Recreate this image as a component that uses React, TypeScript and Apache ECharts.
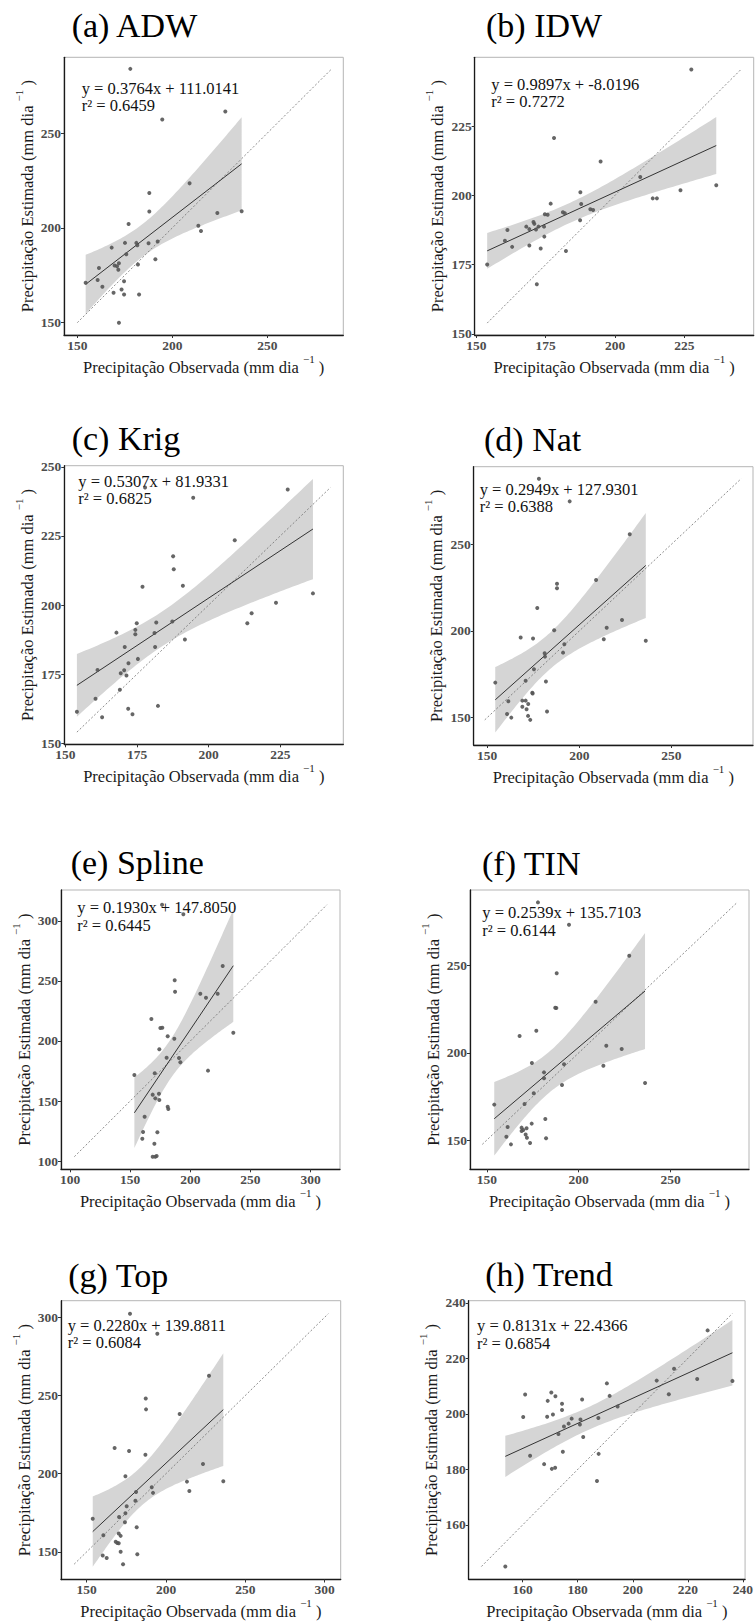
import React, { useEffect, useRef } from "react";
import * as echarts from "echarts";

const FONT = "Liberation Serif, Times New Roman, serif";

// ---------------- data ----------------
const panelTitles = ["(a) ADW", "(b) IDW", "(c) Krig", "(d) Nat", "(e) Spline", "(f) TIN", "(g) Top", "(h) Trend"];

const equationLabels = [
  "y = 0.3764x + 111.0141",
  "y = 0.9897x + -8.0196",
  "y = 0.5307x + 81.9331",
  "y = 0.2949x + 127.9301",
  "y = 0.1930x + 147.8050",
  "y = 0.2539x + 135.7103",
  "y = 0.2280x + 139.8811",
  "y = 0.8131x + 22.4366",
];
const r2Labels = ["r² = 0.6459", "r² = 0.7272", "r² = 0.6825", "r² = 0.6388", "r² = 0.6445", "r² = 0.6144", "r² = 0.6084", "r² = 0.6854"];

const adwPoints = [
  [177.9, 283.9], [227.9, 261.4], [194.7, 257.2], [209.1, 223.5], [187.9, 218.4], [187.9, 208.6], [223.7, 207.9],
  [236.5, 208.8], [177.0, 202.1], [213.7, 201.1], [215.1, 198.4], [168.1, 189.6], [175.1, 192.1], [181.1, 192.1],
  [181.6, 190.9], [187.5, 191.9], [192.3, 192.8], [175.8, 186.1], [191.1, 183.5], [161.4, 178.9], [169.6, 180.2],
  [170.9, 179.8], [171.9, 181.4], [171.6, 177.9], [181.9, 180.7], [154.4, 171.1], [160.7, 172.5], [163.2, 168.9],
  [174.6, 171.9], [173.3, 167.5], [169.1, 165.8], [174.6, 164.9], [182.5, 164.9], [171.9, 150.0],
];
const idwPoints = [
  [227.5, 245.4], [178.0, 220.7], [194.8, 212.2], [209.1, 206.6], [187.5, 201.1], [236.5, 203.6], [223.6, 201.8],
  [213.6, 198.9], [215.1, 198.9], [176.8, 197.0], [187.8, 196.9], [191.1, 195.0], [192.1, 194.7], [174.7, 193.2],
  [175.7, 193.0], [181.2, 193.9], [181.9, 193.5], [187.4, 191.0], [161.2, 187.5], [170.6, 190.4], [170.9, 189.7],
  [168.0, 188.7], [169.1, 187.8], [171.5, 187.7], [172.4, 188.7], [174.4, 188.7], [174.5, 185.1], [160.3, 183.6],
  [162.9, 181.4], [169.1, 181.9], [173.2, 180.8], [182.3, 179.9], [153.9, 175.0], [171.8, 167.9],
];
const krigPoints = [
  [227.6, 241.8], [177.8, 242.5], [194.6, 238.8], [209.1, 223.4], [187.6, 217.6], [187.8, 212.9], [191.0, 207.0],
  [176.9, 206.6], [236.4, 204.2], [223.5, 200.8], [215.0, 197.0], [213.5, 193.4], [174.9, 193.4], [181.7, 193.7],
  [187.3, 194.0], [167.8, 190.0], [174.4, 191.0], [174.4, 189.4], [181.1, 189.9], [191.7, 187.5], [170.7, 184.8],
  [181.3, 184.8], [175.3, 180.5], [172.0, 178.9], [161.2, 176.5], [170.5, 176.4], [169.3, 175.3], [171.3, 174.5],
  [169.0, 169.3], [160.5, 166.1], [171.9, 162.5], [182.3, 163.5], [173.4, 160.5], [162.8, 159.4], [154.0, 161.4],
];
const natPoints = [
  [178.1, 287.9], [194.8, 274.8], [227.4, 255.8], [209.1, 229.4], [187.9, 227.3], [187.9, 224.6], [177.2, 213.3],
  [186.4, 200.4], [168.2, 196.2], [174.9, 195.6], [214.9, 201.9], [223.2, 206.3], [213.3, 195.2], [236.1, 194.4],
  [191.9, 192.3], [191.2, 187.5], [181.2, 187.1], [181.4, 185.2], [175.4, 177.9], [170.9, 171.3], [181.9, 170.8],
  [154.4, 170.2], [174.5, 164.4], [174.7, 163.9], [169.1, 159.8], [170.9, 159.8], [161.5, 159.4], [172.3, 157.9],
  [169.1, 156.3], [171.4, 154.8], [182.5, 153.5], [160.8, 152.1], [172.2, 151.0], [163.1, 150.0], [173.4, 148.7],
];
const splinePoints = [
  [176.5, 313.5], [194.2, 305.6], [226.9, 262.5], [187.0, 250.6], [187.3, 241.1], [208.3, 239.4], [213.0, 236.1],
  [222.7, 239.4], [167.6, 218.3], [175.1, 210.8], [176.7, 211.1], [181.2, 203.9], [186.7, 201.9], [235.7, 206.9],
  [174.2, 193.1], [180.3, 186.1], [190.6, 185.8], [191.7, 182.2], [214.7, 175.3], [153.5, 171.7], [170.4, 173.1],
  [168.7, 155.3], [173.9, 156.1], [170.9, 152.2], [174.2, 150.8], [181.2, 145.3], [181.7, 143.3], [162.0, 136.9],
  [160.7, 124.2], [172.6, 123.9], [160.1, 118.6], [170.1, 114.4], [168.7, 103.6], [170.9, 103.6], [172.0, 104.2],
];
const tinPoints = [
  [177.8, 286.3], [194.7, 273.5], [227.5, 255.7], [188.0, 245.6], [209.2, 229.3], [187.2, 225.9], [187.8, 225.7],
  [176.9, 212.7], [167.8, 209.7], [215.0, 204.1], [223.4, 202.2], [213.4, 192.6], [174.5, 194.2], [192.0, 193.4],
  [181.1, 188.8], [181.1, 185.4], [190.9, 181.5], [236.1, 182.7], [175.5, 176.8], [170.5, 170.6], [154.0, 170.3],
  [181.8, 162.0], [174.4, 159.4], [161.3, 157.5], [168.9, 157.1], [169.8, 155.7], [171.6, 156.7], [168.9, 155.2],
  [171.1, 153.1], [171.8, 151.3], [160.6, 151.9], [182.2, 151.0], [173.5, 148.3], [163.1, 147.5],
];
const topPoints = [
  [177.3, 302.3], [194.5, 289.4], [227.1, 262.6], [187.2, 248.1], [187.4, 241.1], [208.6, 238.1], [167.6, 216.4],
  [176.7, 214.5], [187.0, 212.1], [223.3, 206.2], [174.4, 198.3], [213.2, 194.9], [236.1, 195.1], [191.0, 191.3],
  [191.8, 187.7], [214.7, 188.9], [181.1, 188.3], [180.7, 182.6], [175.2, 179.1], [170.4, 172.3], [174.4, 174.7],
  [174.1, 168.9], [153.8, 171.1], [181.5, 165.7], [170.2, 161.7], [171.4, 160.2], [160.5, 160.6], [168.3, 156.4],
  [169.3, 155.7], [170.2, 155.5], [171.4, 150.0], [181.9, 148.5], [160.1, 147.7], [162.6, 146.0], [172.9, 142.1],
];
const trendPoints = [
  [227.2, 230.1], [215.0, 216.3], [208.7, 212.0], [223.4, 212.6], [236.2, 211.9], [213.1, 207.1], [190.6, 211.0],
  [191.6, 206.5], [194.5, 202.7], [160.9, 207.0], [170.4, 207.7], [171.9, 206.4], [169.1, 204.7], [181.6, 205.2],
  [174.3, 203.7], [174.3, 201.4], [171.0, 199.8], [168.9, 199.0], [160.2, 198.9], [177.8, 198.3], [181.0, 198.0],
  [187.5, 198.5], [176.7, 196.5], [175.0, 195.5], [180.8, 196.2], [173.0, 192.8], [182.0, 191.7], [174.6, 186.4],
  [187.6, 185.6], [162.7, 184.9], [167.8, 181.9], [170.6, 180.2], [171.8, 180.6], [187.0, 175.8], [153.7, 145.0],
];
const panelPoints = [adwPoints, idwPoints, krigPoints, natPoints, splinePoints, tinPoints, topPoints, trendPoints];

// axis ranges and tick labels
const xLimits = [[143, 290], [149.4, 250], [149.6, 247], [142.7, 294.3], [92.5, 324.4], [140.8, 292.7], [133.8, 310.1], [140.4, 240.8]];
const yLimits = [[143.5, 290], [149.6, 249.8], [149.6, 250.4], [134.2, 294.8], [93.1, 325.8], [133.2, 293.4], [132.3, 310.6], [140.4, 240.8]];
const xTickValues = [
  [150, 200, 250], [150, 175, 200, 225], [150, 175, 200, 225], [150, 200, 250],
  [100, 150, 200, 250, 300], [150, 200, 250], [150, 200, 250, 300], [160, 180, 200, 220, 240],
];
const yTickValues = [
  [150, 200, 250], [150, 175, 200, 225], [150, 175, 200, 225, 250], [150, 200, 250],
  [100, 150, 200, 250, 300], [150, 200, 250], [150, 200, 250, 300], [160, 180, 200, 220, 240],
];

const xAxisTitle = "{t|Precipitação Observada (mm dia }{s|−1}{t| )}";
const yAxisTitle = "{t|Precipitação Estimada (mm dia }{s|−1}{t| )}";

// ---------------- layout ----------------
const gridBoxes = [
  { left: 64, top: 57.3, width: 279.3, height: 277.7 },
  { left: 474.7, top: 57.3, width: 279, height: 277.7 },
  { left: 64.3, top: 465.7, width: 279, height: 278.6 },
  { left: 473.7, top: 466.7, width: 279.3, height: 278.3 },
  { left: 61, top: 890, width: 279, height: 279.3 },
  { left: 470, top: 890, width: 279, height: 279.3 },
  { left: 61, top: 1300.7, width: 279.7, height: 279.3 },
  { left: 468.7, top: 1300.7, width: 279.3, height: 278.6 },
];
const titlePos = [[71.7, 25.8], [486, 25.8], [71.7, 438.3], [484, 439.2], [70.7, 862.5], [482, 863.3], [68.3, 1275], [485.3, 1274.2]];
const eqPos = [[81.7, 88.3], [491.3, 84], [78.3, 481], [479.7, 489.3], [77.3, 907.7], [482.3, 912.7], [67.7, 1325], [477, 1325.7]];
const eqLineGap = 17.3;

// ordinary least-squares fit with 95% confidence band of the mean (as geom_smooth(method = "lm"))
function linearFit(pts: number[][]) {
  const n = pts.length;
  let mx = 0, my = 0;
  pts.forEach((p) => { mx += p[0]; my += p[1]; });
  mx /= n; my /= n;
  let sxx = 0, sxy = 0;
  pts.forEach((p) => { sxx += (p[0] - mx) ** 2; sxy += (p[0] - mx) * (p[1] - my); });
  const b = sxy / sxx;
  const a = my - b * mx;
  let sse = 0;
  pts.forEach((p) => { sse += (p[1] - a - b * p[0]) ** 2; });
  const s = Math.sqrt(sse / (n - 2));
  const df = n - 2, z = 1.959964;
  const t = z + (z ** 3 + z) / (4 * df) + (5 * z ** 5 + 16 * z ** 3 + 3 * z) / (96 * df * df);
  const xs = pts.map((p) => p[0]);
  const x0 = Math.min(...xs), x1 = Math.max(...xs);
  const band: number[][] = [];
  const steps = 80;
  for (let k = 0; k <= steps; k++) {
    const x = x0 + ((x1 - x0) * k) / steps;
    const yhat = a + b * x;
    const se = s * Math.sqrt(1 / n + (x - mx) ** 2 / sxx);
    band.push([x, yhat - t * se, yhat + t * se]);
  }
  return { line: [[x0, a + b * x0], [x1, a + b * x1]], band };
}

export default function App() {
  const ref = useRef<HTMLDivElement>(null);

  useEffect(() => {
    if (!ref.current) return;
    const chart = echarts.init(ref.current, null, { renderer: "svg" });

    const grids: any[] = [];
    const xAxes: any[] = [];
    const yAxes: any[] = [];
    const series: any[] = [];
    const graphics: any[] = [];

    const nameStyle = {
      fontFamily: FONT,
      color: "#1a1a1a",
      rich: {
        t: { fontFamily: FONT, fontSize: 16.5, color: "#1a1a1a", lineHeight: 28 },
        s: { fontFamily: FONT, fontSize: 11, color: "#1a1a1a", lineHeight: 12, verticalAlign: "top" },
      },
    };

    panelPoints.forEach((pts, i) => {
      const g = gridBoxes[i];
      grids.push({ ...g, show: true, borderColor: "#b5b5b5", borderWidth: 1, backgroundColor: "transparent", containLabel: false });
      const axisCommon = (ticks: number[]) => ({
        type: "value",
        gridIndex: i,
        axisLine: { show: true, onZero: false, lineStyle: { color: "#1a1a1a", width: 1.3 } },
        axisTick: { show: true, length: 3, customValues: ticks, lineStyle: { color: "#333", width: 1 } },
        axisLabel: { customValues: ticks, color: "#4d4d4d", fontFamily: FONT, fontWeight: "bold", fontSize: 13.5, margin: 3 },
        splitLine: { show: false },
        nameLocation: "middle",
        nameMoveOverlap: false,
        nameTextStyle: nameStyle,
      });
      xAxes.push({ ...axisCommon(xTickValues[i]), min: xLimits[i][0], max: xLimits[i][1], name: xAxisTitle, nameGap: 18 });
      yAxes.push({ ...axisCommon(yTickValues[i]), min: yLimits[i][0], max: yLimits[i][1], name: yAxisTitle, nameGap: 23 });

      const fit = linearFit(pts);
      const flat = pts.flat();
      const lo = Math.min(...flat), hi = Math.max(...flat);
      const band = fit.band;

      series.push({
        type: "custom",
        xAxisIndex: i,
        yAxisIndex: i,
        silent: true,
        z: 1,
        data: [[band[0][0], band[0][1]]],
        renderItem: (_params: any, api: any) => {
          const upper = band.map((p) => api.coord([p[0], p[2]]));
          const lower = band.map((p) => api.coord([p[0], p[1]])).reverse();
          return { type: "polygon", shape: { points: upper.concat(lower) }, style: { fill: "#d5d5d5" } };
        },
      });
      series.push({
        type: "line",
        xAxisIndex: i,
        yAxisIndex: i,
        silent: true,
        z: 2,
        symbol: "none",
        data: [[lo, lo], [hi, hi]],
        lineStyle: { color: "#6e6e6e", width: 0.8, type: [2, 2] },
      });
      series.push({
        type: "line",
        xAxisIndex: i,
        yAxisIndex: i,
        silent: true,
        z: 3,
        symbol: "none",
        data: fit.line,
        lineStyle: { color: "#333333", width: 1 },
      });
      series.push({
        type: "scatter",
        xAxisIndex: i,
        yAxisIndex: i,
        silent: true,
        z: 4,
        symbolSize: 4,
        data: pts,
        itemStyle: { color: "#555555", opacity: 0.9 },
      });

      graphics.push({
        type: "text",
        x: titlePos[i][0],
        y: titlePos[i][1],
        style: { text: panelTitles[i], fontFamily: FONT, fontSize: 34, fill: "#000", verticalAlign: "middle" },
      });
      graphics.push({
        type: "text",
        x: eqPos[i][0],
        y: eqPos[i][1],
        z: 10,
        style: { text: equationLabels[i], fontFamily: FONT, fontSize: 16.5, fill: "#111", verticalAlign: "middle" },
      });
      graphics.push({
        type: "text",
        x: eqPos[i][0],
        y: eqPos[i][1] + eqLineGap,
        z: 10,
        style: { text: r2Labels[i], fontFamily: FONT, fontSize: 16.5, fill: "#111", verticalAlign: "middle" },
      });
    });

    chart.setOption({
      animation: false,
      backgroundColor: "#ffffff",
      grid: grids,
      xAxis: xAxes,
      yAxis: yAxes,
      series,
      graphic: graphics,
    });

    return () => chart.dispose();
  }, []);

  return <div ref={ref} style={{ position: "absolute", left: 0, top: 0, width: 756, height: 1621 }} />;
}
